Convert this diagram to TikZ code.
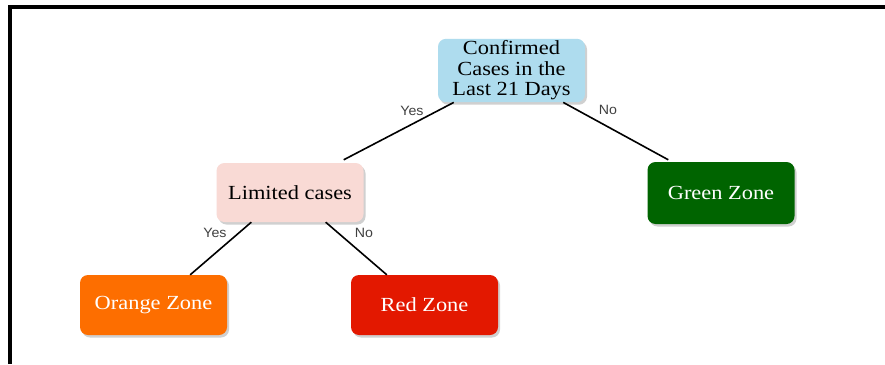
\documentclass[tikz,border=0pt]{standalone}
\usepackage{fontspec}
\setmainfont{Liberation Serif}[FakeStretch=1.12]
\newfontfamily\lblfont{Liberation Sans}[FakeStretch=1.05]
\begin{document}
\begin{tikzpicture}[x=1pt,y=-1pt,
  box/.style={rounded corners=8pt, minimum width=147pt, minimum height=60pt, inner sep=2pt, align=center,
    font=\fontsize{20}{20.5}\selectfont,
    preaction={fill=black!30, opacity=0.6, transform canvas={xshift=2pt,yshift=-2.5pt}}},
  edge/.style={line width=1.6pt, black},
  lbl/.style={font=\lblfont\fontsize{13.5}{15}\selectfont, text=black!75, inner sep=0pt}]
\useasboundingbox (0,0) rectangle (885,364);
\fill[white] (0,0) rectangle (885,364);
\draw[line width=4pt] (10,364) -- (10,7) -- (885,7);
\definecolor{cblue}{RGB}{174,220,238}
\definecolor{cpink}{RGB}{249,218,213}
\definecolor{cgreen}{RGB}{0,100,0}
\definecolor{corange}{RGB}{253,110,0}
\definecolor{cred}{RGB}{227,24,0}
\node[box, fill=cblue, minimum height=61pt] (conf) at (511.5,70.5) {Confirmed\\Cases in the\\Last 21 Days};
\node[box, fill=cpink, minimum height=59pt] (lim) at (290,192.5) {Limited cases};
\node[box, fill=cgreen, text=white, minimum height=62pt] (green) at (721,193) {Green Zone};
\node[box, fill=corange, text=white] (orange) at (153.5,305) {Orange Zone};
\node[box, fill=cred, text=white] (red) at (424.5,305) {Red Zone};
\draw[edge] ([xshift=16pt]conf.south west) -- ([xshift=-20pt,yshift=3pt]lim.north east);
\draw[edge] ([xshift=-22pt]conf.south east) -- ([xshift=21pt,yshift=2pt]green.north west);
\draw[edge] ([xshift=35pt]lim.south west) -- ([xshift=-37pt]orange.north east);
\draw[edge] ([xshift=-38pt]lim.south east) -- ([xshift=36pt]red.north west);
\node[lbl] (y1) at (412,111) {Yes};
\node[lbl] (n1) at (608,110) {No};
\node[lbl] (y2) at (215,233) {Yes};
\node[lbl] (n2) at (364,233) {No};
\end{tikzpicture}
\end{document}
